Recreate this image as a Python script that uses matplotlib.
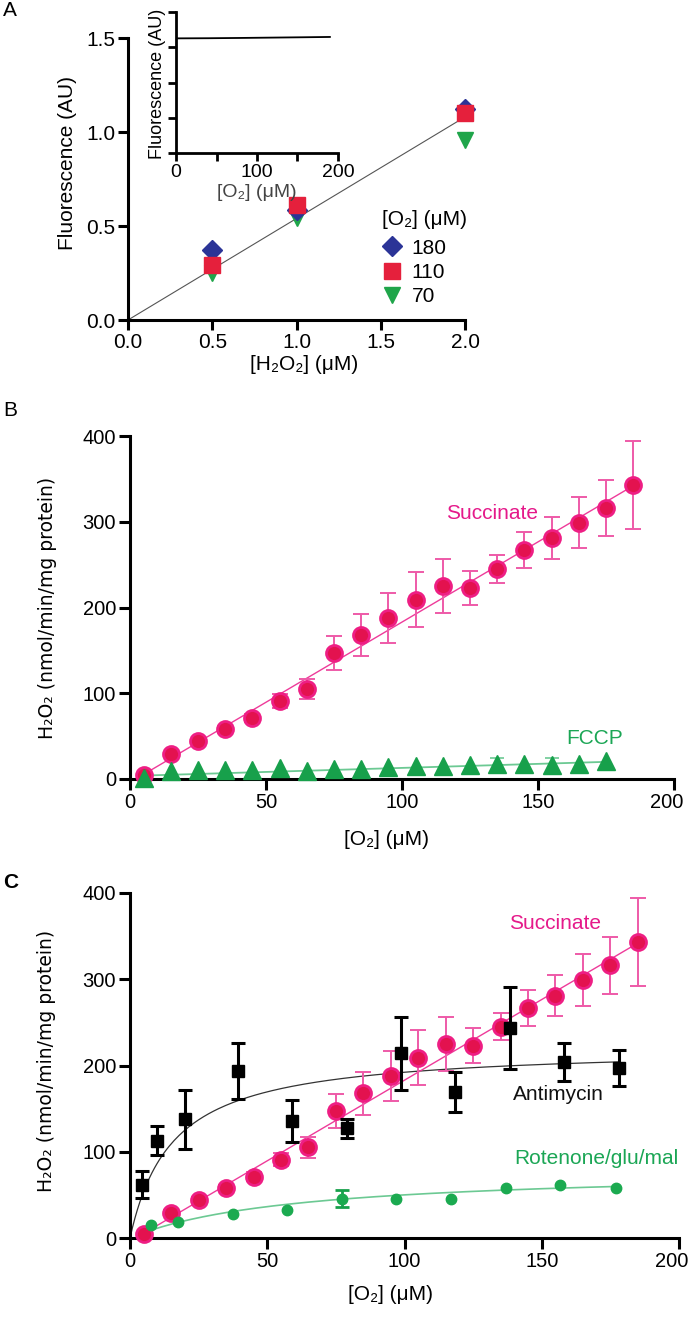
import matplotlib
matplotlib.use("Agg")
import numpy as np
import matplotlib.pyplot as plt
import matplotlib.transforms as mtransforms
from matplotlib.lines import Line2D

# ---------------- Panel A data ----------------
h2o2_conc = [0.5, 1.0, 2.0]
fluor_o2_180 = [0.37, 0.585, 1.12]
fluor_o2_110 = [0.29, 0.61, 1.10]
fluor_o2_70 = [0.25, 0.54, 0.96]
o2_level_labels = ["180", "110", "70"]
std_fit_x = [0.0, 2.0]
std_fit_y = [0.0, 1.08]

inset_o2 = [0, 40, 80, 120, 160, 190]
inset_fluor = [1.626, 1.628, 1.632, 1.637, 1.642, 1.646]

# ---------------- Panel B / C data ----------------
succ_o2 = [5, 15, 25, 35, 45, 55, 65, 75, 85, 95, 105, 115, 125, 135, 145, 155, 165, 175, 185]
succ_rate = [5, 29, 44, 58, 71, 91, 105, 147, 168, 188, 209, 225, 223, 245, 267, 281, 299, 316, 343]
succ_err = [2, 3, 3, 4, 5, 8, 12, 20, 25, 29, 32, 31, 20, 16, 21, 24, 30, 33, 51]
succ_fit_slope = 1.87
succ_fit_intercept = -4.0

fccp_o2 = [5, 15, 25, 35, 45, 55, 65, 75, 85, 95, 105, 115, 125, 135, 145, 155, 165, 175]
fccp_rate = [1, 9, 10, 11, 11, 13, 9, 12, 12, 14, 15, 15, 16, 17, 17.5, 16, 17.5, 21]
fccp_err = [0, 0, 0, 0, 0, 0, 0, 0, 0, 0, 0, 0, 0, 8, 0, 8, 0, 0]
fccp_fit_x = [5, 175]
fccp_fit_y = [4, 20]

anti_o2 = [4.5, 9.7, 19.9, 39.4, 59, 79.2, 98.7, 118.4, 138.6, 158, 178]
anti_rate = [62, 113, 137.5, 193.6, 135.5, 127, 214, 169, 244, 204.5, 196.7]
anti_err = [16, 17, 34, 33, 24, 11, 42.6, 23, 47.5, 22, 21]
anti_vmax, anti_km = 222.0, 15.5

rot_o2 = [7.8, 17.4, 37.6, 57.2, 77.4, 97, 116.8, 137, 156.8, 176.9]
rot_rate = [14.7, 18.6, 27.5, 33, 45.7, 45, 45, 58.5, 61, 58.5]
rot_err = [0, 0, 0, 0, 10, 0, 0, 0, 0, 0]
rot_vmax, rot_km = 80.0, 60.0

# ---------------- styling ----------------
SANS = ["Liberation Sans", "DejaVu Sans"]
plt.rcParams["font.family"] = SANS
PINK_FACE = "#E3124F"
PINK_EDGE = "#EE1E84"
PINK_ERR = "#EE5AA8"
PINK_LINE = "#EE3B9A"
PINK_TEXT = "#E5198A"
GREEN = "#17A04B"
GREEN_LINE = "#6CC993"
GREEN_TEXT = "#1BA655"

W, H = 693, 1317
fig = plt.figure(figsize=(W / 100, H / 100), dpi=100)


def rect(x0, y0, x1, y1):
    return [x0 / W, 1 - y1 / H, (x1 - x0) / W, (y1 - y0) / H]


def style_axes(ax, lw=2.2, tl=7, fs=15):
    for s in ("top", "right"):
        ax.spines[s].set_visible(False)
    for s in ("left", "bottom"):
        ax.spines[s].set_linewidth(lw)
    ax.tick_params(direction="out", length=tl, width=lw, labelsize=fs, pad=2)


def nonzero(xs, ys, es):
    idx = [i for i, e in enumerate(es) if e > 0]
    return [xs[i] for i in idx], [ys[i] for i in idx], [es[i] for i in idx]


# ================= Panel A =================
axA = fig.add_axes(rect(128, 38, 465, 320))
style_axes(axA, fs=15)
axA.plot(std_fit_x, std_fit_y, color="#555555", lw=0.8, zorder=1)
axA.plot(h2o2_conc, fluor_o2_70, linestyle="none", marker="v", ms=12, color="#1FA54A",
         mec="#1FA54A", zorder=3, clip_on=False)
axA.plot(h2o2_conc, fluor_o2_180, linestyle="none", marker="D", ms=10, color="#2B3497",
         mec="#2B3497", zorder=4, clip_on=False)
axA.plot(h2o2_conc, fluor_o2_110, linestyle="none", marker="s", ms=11, color="#E5203C",
         mec="#E5203C", zorder=5, clip_on=False)
axA.set_xlim(0, 2.0)
axA.set_ylim(0, 1.5)
axA.set_xticks([0.0, 0.5, 1.0, 1.5, 2.0])
axA.set_yticks([0.0, 0.5, 1.0, 1.5])
axA.set_xticklabels(["0.0", "0.5", "1.0", "1.5", "2.0"])
axA.set_yticklabels(["0.0", "0.5", "1.0", "1.5"])
axA.set_xlabel("[H\u2082O\u2082] (\u03bcM)", fontsize=15)
axA.xaxis.set_label_coords(0.522, -0.125)
axA.set_ylabel("Fluorescence (AU)", fontsize=15)
axA.yaxis.set_label_coords(-0.15, 0.557)

handles = [
    Line2D([], [], linestyle="none", marker="D", ms=10, color="#2B3497"),
    Line2D([], [], linestyle="none", marker="s", ms=11, color="#E5203C"),
    Line2D([], [], linestyle="none", marker="v", ms=12, color="#1FA54A"),
]
leg = axA.legend(handles, o2_level_labels, title="[O\u2082] (\u03bcM)", loc="upper left",
                 bbox_to_anchor=(0.755, 0.39), frameon=False, fontsize=15,
                 title_fontsize=15, handlelength=0.9, handletextpad=0.5,
                 labelspacing=0.25, borderpad=0, borderaxespad=0)
leg._legend_box.align = "left"
leg._legend_box.sep = 7

# inset
axI = fig.add_axes(rect(176, 12, 338, 153))
style_axes(axI, lw=2.0, tl=6, fs=14)
axI.plot(inset_o2, inset_fluor, color="black", lw=1.3)
axI.set_xlim(0, 200)
axI.set_ylim(0, 2.0)
axI.set_xticks([0, 50, 100, 150, 200])
axI.set_xticklabels(["0", "", "100", "", "200"])
axI.set_yticks([0, 0.5, 1.0, 1.5, 2.0])
axI.set_yticklabels([])
axI.set_xlabel("[O\u2082] (\u03bcM)", fontsize=14, color="#444444")
axI.xaxis.set_label_coords(0.5, -0.22)
axI.set_ylabel("Fluorescence (AU)", fontsize=13)
axI.yaxis.set_label_coords(-0.06, 0.49)

# ================= Panel B / C helpers =================
YLABEL = "H\u2082O\u2082 (nmol/min/mg protein)"


def draw_succinate(ax):
    fx = np.array([succ_o2[0], succ_o2[-1]])
    ax.plot(fx, succ_fit_slope * fx + succ_fit_intercept, color=PINK_LINE, lw=1.0, zorder=2)
    ax.errorbar(succ_o2, succ_rate, yerr=succ_err, fmt="none", ecolor=PINK_ERR,
                elinewidth=1.4, capsize=6, capthick=1.4, zorder=3)
    ax.plot(succ_o2, succ_rate, linestyle="none", marker="o", ms=11.5, mfc=PINK_FACE,
            mec=PINK_EDGE, mew=2, zorder=4, clip_on=False)


def setup_bc(ax, label_x, label_y):
    style_axes(ax, fs=14.5)
    ax.set_xlim(0, 200)
    ax.set_ylim(0, 400)
    ax.set_xticks([0, 50, 100, 150, 200])
    ax.set_yticks([0, 100, 200, 300, 400])
    ax.tick_params(length=8)
    ax.set_xlabel("[O\u2082] (\u03bcM)", fontsize=15)
    ax.xaxis.set_label_coords(label_x, label_y)
    ax.set_ylabel(YLABEL, fontsize=13.5, family=["DejaVu Sans"])
    # nudge the last x tick label slightly left so it stays inside the figure
    fig.canvas.draw()
    last = ax.get_xticklabels()[-1]
    last.set_transform(last.get_transform() +
                       mtransforms.ScaledTranslation(-5 / 72, 0, fig.dpi_scale_trans))


# ================= Panel B =================
axB = fig.add_axes(rect(130, 436, 674, 779))
setup_bc(axB, 0.472, -0.15)
axB.yaxis.set_label_coords(-0.135, 0.5)
draw_succinate(axB)
axB.plot(fccp_fit_x, fccp_fit_y, color=GREEN_LINE, lw=1.3, zorder=2)
fx_, fy_, fe_ = nonzero(fccp_o2, fccp_rate, fccp_err)
axB.errorbar(fx_, fy_, yerr=fe_, fmt="none", ecolor=GREEN_LINE,
             elinewidth=1.2, capsize=5, capthick=1.2, zorder=3)
axB.plot(fccp_o2, fccp_rate, linestyle="none", marker="^", ms=12.5, color=GREEN,
         mec=GREEN, zorder=5, clip_on=False)
axB.text(133, 310, "Succinate", color=PINK_TEXT, fontsize=15, ha="center", va="center")
axB.text(171, 47, "FCCP", color=GREEN_TEXT, fontsize=15, ha="center", va="center")

# ================= Panel C =================
axC = fig.add_axes(rect(130, 893, 679, 1238))
setup_bc(axC, 0.474, -0.135)
axC.yaxis.set_label_coords(-0.135, 0.513)
xa = np.linspace(0, anti_o2[-1], 200)
axC.plot(xa, anti_vmax * xa / (anti_km + xa), color="#333333", lw=0.9, zorder=2)
xr = np.linspace(3, rot_o2[-1], 200)
axC.plot(xr, rot_vmax * xr / (rot_km + xr), color=GREEN_LINE, lw=1.2, zorder=2)
draw_succinate(axC)
axC.errorbar(anti_o2, anti_rate, yerr=anti_err, fmt="none", ecolor="black",
             elinewidth=2.2, capsize=5, capthick=2.2, zorder=5)
axC.plot(anti_o2, anti_rate, linestyle="none", marker="s", ms=8, color="black", zorder=6)
rx_, ry_, re_ = nonzero(rot_o2, rot_rate, rot_err)
axC.errorbar(rx_, ry_, yerr=re_, fmt="none", ecolor=GREEN,
             elinewidth=2.0, capsize=5, capthick=2.0, zorder=5)
axC.plot(rot_o2, rot_rate, linestyle="none", marker="o", ms=7.5, color="#1BAA50", zorder=6)
axC.text(155, 365, "Succinate", color=PINK_TEXT, fontsize=15, ha="center", va="center")
axC.text(156, 166, "Antimycin", color="#111111", fontsize=15, ha="center", va="center")
axC.text(170, 92, "Rotenone/glu/mal", color=GREEN_TEXT, fontsize=15, ha="center", va="center")

# panel letters
fig.text(3 / W, 1 - 10 / H, "A", fontsize=15, ha="left", va="center")
fig.text(3 / W, 1 - 410 / H, "B", fontsize=15, ha="left", va="center")
fig.text(3 / W, 1 - 882 / H, "C", fontsize=15, fontweight="bold", ha="left", va="center")

fig.savefig("out.png", dpi=100)
